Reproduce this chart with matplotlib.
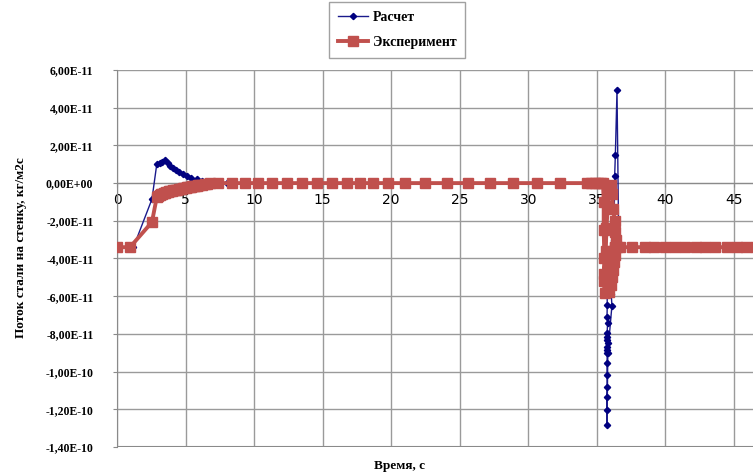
import matplotlib
matplotlib.use("Agg")
import matplotlib.pyplot as plt
import numpy as np

# ---- data (units of 1e-11 for y) ----
calc_x = [0.0, 1.2, 2.55, 2.9, 3.1, 3.3, 3.5, 3.7, 3.9, 4.1, 4.3, 4.5, 4.8, 5.1, 5.4, 5.8, 6.2, 6.6, 7.0,
          8.0, 35.0, 35.6,
          35.75, 35.76, 35.74, 35.78, 35.75, 35.77, 35.76, 35.78, 35.75, 35.77, 35.76, 35.74, 35.75, 35.76, 35.74, 35.75, 35.74,
          35.8, 36.1, 36.05, 36.1, 36.15, 36.2, 36.25, 36.3, 36.35, 36.47, 36.6, 50.0]
calc_y = [-3.4, -3.4, -0.85, 1.0, 1.05, 1.1, 1.2, 1.05, 0.92, 0.8, 0.68, 0.58, 0.46, 0.36, 0.28, 0.2, 0.13, 0.07, 0.02,
          0.0, 0.0, 0.0,
          -5.94, -6.47, -7.1, -7.43, -7.96, -8.17, -8.33, -8.49, -8.7, -8.86, -9.02, -9.55, -10.19, -10.82, -11.35, -12.04, -12.84,
          -9.0, -6.5, -5.9, -5.2, -4.6, -4.2, -3.0, 0.4, 1.49, 4.93, -3.4, -3.4]

exp_x = [0.0, 0.95, 2.55, 2.9, 3.0, 3.1, 3.2, 3.3, 3.4, 3.5, 3.6, 3.7, 3.8, 3.9, 4.0, 4.1, 4.2, 4.3, 4.4, 4.5,
         4.6, 4.7, 4.8, 4.9, 5.0, 5.1, 5.2, 5.3, 5.4, 5.5, 5.6, 5.7, 5.8, 5.9, 6.0, 6.2, 6.4, 6.6, 6.8,
         7.4, 8.4, 9.3, 10.3, 11.3, 12.4, 13.5, 14.6, 15.7, 16.8, 17.7, 18.7, 19.8, 21.0, 22.5, 24.1, 25.6,
         27.2, 28.9, 30.6, 32.3, 34.3, 34.6, 34.9, 35.1, 35.3, 35.45, 35.5, 35.5, 35.55, 35.5, 35.6, 35.55,
         35.65, 35.7, 35.8, 35.9, 36.0, 36.1, 36.2, 36.3, 36.35, 36.4, 36.35, 36.3, 36.25, 36.2, 36.1, 36.0,
         35.9, 35.8, 35.7, 35.8, 36.0, 36.2, 36.35, 36.5,
         36.7, 37.6, 38.5, 39.2, 40.0, 40.7, 41.4, 42.2, 42.9, 43.6, 44.5, 45.2, 45.9, 46.6, 47.3, 48.0]
exp_y = [-3.4, -3.4, -2.07, -0.75, -0.66, -0.62, -0.59, -0.56, -0.53, -0.5, -0.48, -0.46, -0.44, -0.42, -0.4, -0.38, -0.37, -0.35, -0.34, -0.32,
         -0.31, -0.29, -0.28, -0.26, -0.25, -0.23, -0.22, -0.2, -0.19, -0.17, -0.16, -0.15, -0.13, -0.12, -0.11, -0.08, -0.06, -0.04, -0.02,
         0.0, 0.0, 0.0, 0.0, 0.0, 0.0, 0.0, 0.0, 0.0, 0.0, 0.0, 0.0, 0.0, 0.0, 0.0, 0.0, 0.0,
         0.0, 0.0, 0.0, 0.0, 0.0, 0.0, 0.0, 0.0, 0.0, 0.0, -1.0, -2.5, -4.0, -5.2, -5.85, -4.8,
         -3.6, -2.4, -1.2, -0.4, -0.1, -0.6, -1.4, -2.0, -2.6, -3.0, -3.4, -3.8, -4.2, -4.6, -5.0, -5.4,
         -5.8, -5.6, -5.0, -4.4, -3.9, -3.6, -3.4, -3.4,
         -3.4, -3.4, -3.4, -3.4, -3.4, -3.4, -3.4, -3.4, -3.4, -3.4, -3.4, -3.4, -3.4, -3.4, -3.4, -3.4]

y_ticks = [6, 4, 2, 0, -2, -4, -6, -8, -10, -12, -14]
y_tick_labels = ["6,00E-11", "4,00E-11", "2,00E-11", "0,00E+00", "-2,00E-11", "-4,00E-11",
                 "-6,00E-11", "-8,00E-11", "-1,00E-10", "-1,20E-10", "-1,40E-10"]
x_ticks = [0, 5, 10, 15, 20, 25, 30, 35, 40, 45]

scale = 1e-11
cy = np.array(calc_y) * scale
ey = np.array(exp_y) * scale

fig = plt.figure(figsize=(7.53, 4.76), dpi=100)
W, H = 753, 476
ax_left, ax_right_x50 = 117, 802.5
ax_top, ax_bottom = 70, 447
ax = fig.add_axes([ax_left / W, (H - ax_bottom) / H, (ax_right_x50 - ax_left) / W, (ax_bottom - ax_top) / H])

font = dict(family="Liberation Serif", weight="bold")

ax.plot(calc_x, cy, color="#1a1a8c", lw=1.0, marker="D", ms=3.2, mec="#000080", mfc="#000080",
        label="Расчет", zorder=3)
ax.plot(exp_x, ey, color="#c0504d", lw=2.8, marker="s", ms=6.5, mec="#c0504d", mfc="#c0504d",
        label="Эксперимент", zorder=4)

ax.set_xlim(0, 50)
ax.set_ylim(-14e-11, 6e-11)
ax.set_yticks([v * scale for v in y_ticks])
ax.set_yticklabels(y_tick_labels, fontdict=dict(size=8.5, **font))
ax.set_xticks(x_ticks)
ax.set_xticklabels([str(v) for v in x_ticks], fontdict=dict(size=10, **font))
ax.set_xticks([50], minor=True)
ax.grid(True, which="both", color="#9a9a9a", lw=1.0)
ax.set_axisbelow(True)
for s in ["top", "right"]:
    ax.spines[s].set_visible(False)
ax.spines["left"].set_color("#8a8a8a")
ax.spines["bottom"].set_position(("data", 0))
ax.spines["bottom"].set_color("#8a8a8a")
ax.axhline(-14e-11, color="#8a8a8a", lw=1.5, zorder=1)
ax.tick_params(axis="y", length=3, color="#8a8a8a", pad=14)
ax.tick_params(axis="x", length=3, color="#8a8a8a", pad=4)
ax.tick_params(axis="x", which="minor", length=0)

fig.text(21 / W, 1 - 248 / H, "Поток стали на стенку, кг/м2с", rotation=90, ha="center", va="center",
         fontsize=9.5, **font)
fig.text(400 / W, 1 - 466 / H, "Время, с", ha="center", va="center", fontsize=9.5, **font)

h, l = ax.get_legend_handles_labels()
leg = fig.legend(h, l, loc="center", bbox_to_anchor=(397 / W, 1 - 30 / H),
                 prop=dict(family="Liberation Serif", weight="bold", size=10), frameon=True,
                 fancybox=False, edgecolor="#8a8a8a", handlelength=2.2, borderpad=0.6, labelspacing=0.9,
                 handletextpad=0.3)
leg.get_frame().set_linewidth(1.0)

fig.savefig("out.png", dpi=100)
